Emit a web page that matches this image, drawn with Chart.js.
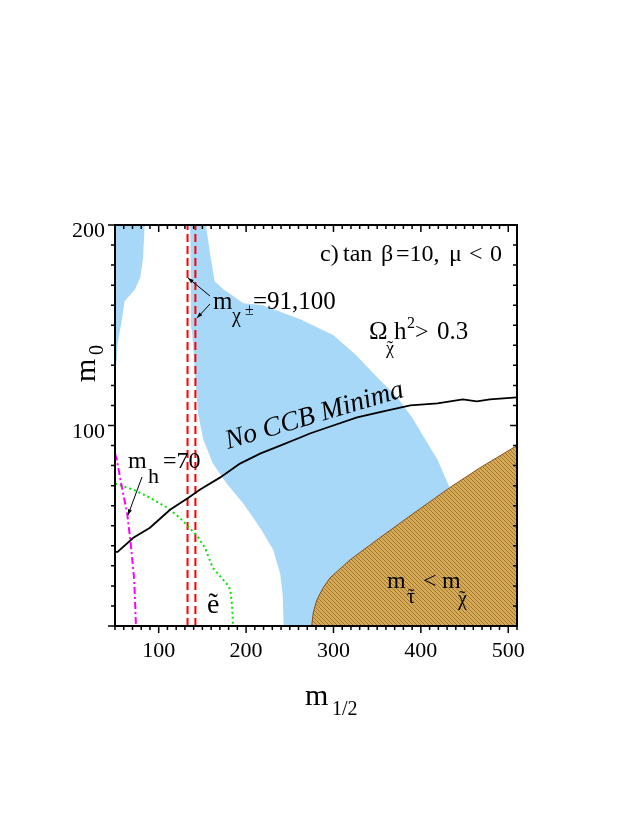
<!DOCTYPE html>
<html>
<head>
<meta charset="utf-8">
<script src="https://cdn.jsdelivr.net/npm/chart.js@4"></script>
<style>
  body { margin: 0; background: #fff; }
  canvas { display: block; }
</style>
</head>
<body>
<canvas id="plane" width="623" height="830"></canvas>
<script>
// m1/2 on x, m0 on y (GeV)

// Omega h^2 > 0.3 : thin strip along the left edge
const stripX = [50, 84, 82, 79, 73, 65, 61, 58, 53, 52, 50];
const stripY = [200, 200, 183, 174, 168, 164, 162, 153, 141, 133, 125];

// Omega h^2 > 0.3 : main band
const bandX = [136, 154, 159, 164, 174, 197, 219, 262, 300, 326, 348, 373, 390, 405, 419, 433, 456, 491, 491,
               243, 242, 239, 231, 216, 197, 178, 162, 151, 145, 142, 138, 137, 136];
const bandY = [200, 200, 185, 172, 168, 161, 160, 153, 145, 135, 125, 114, 104, 93, 83, 69, 53, 33, 0,
               0, 15, 26, 38, 49, 61, 71, 81, 93, 106, 123, 148, 173, 200];

// m_stau < m_chi region
const stauX = [275, 277, 281, 288, 296, 319, 353, 391, 433, 468, 510, 510];
const stauY = [0, 7, 13, 19, 24, 33, 44, 56, 69, 79, 90, 0];

// chargino mass limits (91 and 100 GeV)
const charginoX = [133, 142];

// no CCB minima boundary
const ccbX = [50, 53, 71, 90, 113, 134, 147, 170, 193, 216, 239, 262, 273, 293, 327, 357, 388, 419, 448, 464, 479, 510];
const ccbY = [37, 37, 44, 49, 58, 64, 68, 74, 81, 86, 90, 94, 96, 99, 104, 107, 110, 111, 113, 112, 113, 114];

// m_h = 70
const higgsX = [50, 52, 58, 64, 68, 72, 74];
const higgsY = [86, 83, 69, 56, 41, 23, 0];

// selectron limit
const selX = [50, 71, 90, 110, 124, 144, 153, 162, 178, 182, 184, 185];
const selY = [71, 68, 64, 59, 54, 45, 39, 29, 21, 18, 10, 0];

const xTickLabels = [100, 200, 300, 400, 500];
const yTickLabels = [100, 200];

const SERIF = '"Liberation Serif", "DejaVu Serif", serif';

function pts(xs, ys) {
    return xs.map((x, i) => ({ x: x, y: ys[i] }));
}

function hatch() {
    const c = document.createElement('canvas');
    c.width = 4; c.height = 4;
    const g = c.getContext('2d');
    g.fillStyle = '#d6ab55';
    g.fillRect(0, 0, 4, 4);
    g.strokeStyle = '#8a5a28';
    g.lineWidth = 0.7;
    g.beginPath();
    g.moveTo(-1, -1); g.lineTo(5, 5);
    g.moveTo(3, -1); g.lineTo(5, 1);
    g.moveTo(-1, 3); g.lineTo(1, 5);
    g.stroke();
    return g.createPattern(c, 'repeat');
}

function txt(ctx, s, x, y, size, opts) {
    opts = opts || {};
    ctx.font = (opts.italic ? 'italic ' : '') + size + 'px ' + SERIF;
    ctx.textAlign = opts.align || 'left';
    ctx.textBaseline = 'alphabetic';
    ctx.fillStyle = '#000';
    ctx.fillText(s, x, y);
}

// letter with a tilde on top
function tilded(ctx, s, x, y, size) {
    txt(ctx, s, x, y, size);
    const w = ctx.measureText(s).width;
    txt(ctx, '\u02DC', x + w / 2, y - size * 0.02, size, { align: 'center' });
}

function arrow(ctx, x0, y0, x1, y1) {
    const a = Math.atan2(y1 - y0, x1 - x0);
    ctx.strokeStyle = '#000';
    ctx.fillStyle = '#000';
    ctx.lineWidth = 1;
    ctx.beginPath();
    ctx.moveTo(x0, y0);
    ctx.lineTo(x1, y1);
    ctx.stroke();
    ctx.beginPath();
    ctx.moveTo(x1, y1);
    ctx.lineTo(x1 - 6 * Math.cos(a - 0.35), y1 - 6 * Math.sin(a - 0.35));
    ctx.lineTo(x1 - 6 * Math.cos(a + 0.35), y1 - 6 * Math.sin(a + 0.35));
    ctx.closePath();
    ctx.fill();
}

const frame = {
    id: 'frame',
    afterDraw(chart) {
        const ctx = chart.ctx;
        const xs = chart.scales.x, ys = chart.scales.y;
        const a = chart.chartArea;
        ctx.save();

        // ticks: outward on left/bottom, inward on top/right
        ctx.strokeStyle = '#000';
        ctx.lineWidth = 1.5;
        ctx.beginPath();
        for (let v = 50; v <= 510; v += 10) {
            const p = xs.getPixelForValue(v);
            const len = v % 100 === 0 ? 7 : 4;
            ctx.moveTo(p, a.bottom); ctx.lineTo(p, a.bottom + len);
            ctx.moveTo(p, a.top); ctx.lineTo(p, a.top + len);
        }
        for (let v = 0; v <= 200; v += 10) {
            const p = ys.getPixelForValue(v);
            const len = v % 100 === 0 ? 7 : 4;
            ctx.moveTo(a.left, p); ctx.lineTo(a.left - len, p);
            ctx.moveTo(a.right, p); ctx.lineTo(a.right - len, p);
        }
        ctx.stroke();

        ctx.lineWidth = 2;
        ctx.strokeRect(a.left, a.top, a.right - a.left, a.bottom - a.top);

        xTickLabels.forEach(v => txt(ctx, String(v), xs.getPixelForValue(v), a.bottom + 31, 22, { align: 'center' }));
        yTickLabels.forEach(v => txt(ctx, String(v), a.left - 10, ys.getPixelForValue(v) + 12, 22, { align: 'right' }));

        // axis titles
        txt(ctx, 'm', 305, 705, 30);
        txt(ctx, '1/2', 332, 715, 20);
        ctx.save();
        ctx.translate(95, 382);
        ctx.rotate(-Math.PI / 2);
        txt(ctx, 'm', 0, 0, 30);
        txt(ctx, '0', 27, 8, 20);
        ctx.restore();

        // annotations
        txt(ctx, 'c)', 320, 261, 24);
        txt(ctx, 'tan', 343, 261, 24);
        txt(ctx, '\u03B2', 381, 261, 24);
        txt(ctx, '=10,', 396, 261, 24);
        txt(ctx, '\u03BC', 449, 261, 24);
        txt(ctx, '<', 469, 261, 24);
        txt(ctx, '0', 490, 261, 24);

        txt(ctx, 'm', 213, 309, 25);
        txt(ctx, '\u03C7', 232, 322, 20);
        txt(ctx, '\u00B1', 245, 315, 16);
        txt(ctx, '=91,100', 253, 309, 25);
        arrow(ctx, 210, 296, 188, 278);
        arrow(ctx, 210, 304, 197, 318);

        txt(ctx, '\u03A9', 369, 339, 25);
        tilded(ctx, '\u03C7', 386, 354, 18);
        txt(ctx, 'h', 394, 339, 25);
        txt(ctx, '2', 407, 328, 16);
        txt(ctx, '>', 415, 339, 24);
        txt(ctx, '0.3', 437, 339, 25);

        ctx.save();
        ctx.translate(228, 449);
        ctx.rotate(-16.5 * Math.PI / 180);
        txt(ctx, 'No CCB Minima', 0, 0, 27.5, { italic: true });
        ctx.restore();

        txt(ctx, 'm', 128, 468, 24);
        txt(ctx, 'h', 148, 483, 22);
        txt(ctx, '=70', 163, 468, 24);
        arrow(ctx, 142, 477, 128, 515);

        tilded(ctx, 'e', 207, 613, 28);

        txt(ctx, 'm', 387, 588, 24);
        tilded(ctx, '\u03C4', 407, 603, 20);
        txt(ctx, '<', 423, 588, 24);
        txt(ctx, 'm', 442, 588, 24);
        tilded(ctx, '\u03C7', 458, 605, 20);

        ctx.restore();
    }
};

const ctx = document.getElementById('plane').getContext('2d');

new Chart(ctx, {
    type: 'line',
    data: {
        datasets: [
            {
                data: pts(stripX, stripY), fill: 'shape', backgroundColor: '#a8d8f8',
                borderWidth: 0, pointRadius: 0, order: 10
            },
            {
                data: pts(bandX, bandY), fill: 'shape', backgroundColor: '#a8d8f8',
                borderWidth: 0, pointRadius: 0, order: 9
            },
            {
                data: pts(stauX, stauY), fill: 'shape', backgroundColor: hatch(),
                borderColor: '#8a5020', borderWidth: 1, pointRadius: 0, order: 8
            },
            {
                data: pts([charginoX[0], charginoX[0]], [0, 200]), borderColor: '#ff0000',
                borderWidth: 2, borderDash: [8, 4], pointRadius: 0, order: 5
            },
            {
                data: pts([charginoX[1], charginoX[1]], [0, 200]), borderColor: '#ff0000',
                borderWidth: 2, borderDash: [8, 4], pointRadius: 0, order: 5
            },
            {
                data: pts(selX, selY), borderColor: '#00e600', borderWidth: 2,
                borderDash: [2, 3], pointRadius: 0, order: 4
            },
            {
                data: pts(higgsX, higgsY), borderColor: '#ff00ff', borderWidth: 2,
                borderDash: [7, 3, 2, 3], pointRadius: 0, order: 3
            },
            {
                data: pts(ccbX, ccbY), borderColor: '#000', borderWidth: 1.8,
                pointRadius: 0, order: 2
            }
        ]
    },
    options: {
        responsive: false,
        animation: false,
        layout: { padding: { left: 115, right: 106, top: 225, bottom: 204 } },
        plugins: { legend: { display: false }, tooltip: { enabled: false } },
        scales: {
            x: { type: 'linear', min: 50, max: 510, display: false },
            y: { type: 'linear', min: 0, max: 200, display: false }
        }
    },
    plugins: [frame]
});
</script>
</body>
</html>
